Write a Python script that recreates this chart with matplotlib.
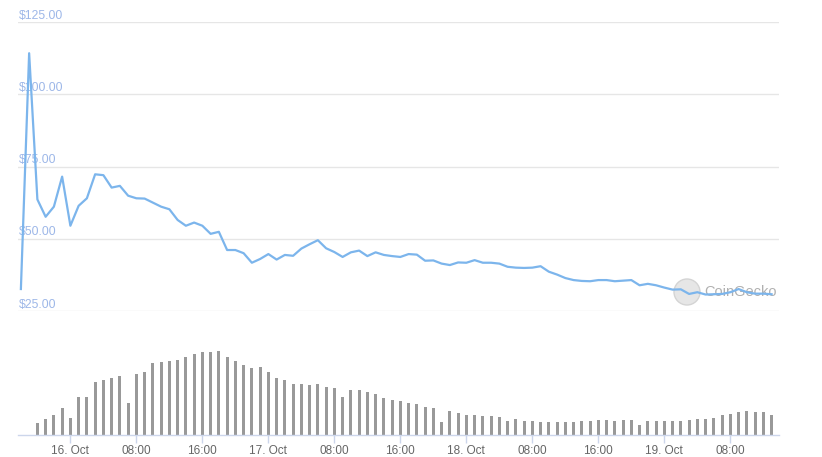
import numpy as np
import matplotlib.pyplot as plt
from matplotlib.patches import Ellipse
from matplotlib.transforms import blended_transform_factory

plt.rcParams['font.family'] = ['Liberation Sans', 'DejaVu Sans']

# hours relative to 16 Oct 00:00
price_start_hour = -6
volume_start_hour = -4

price = [32.6, 114.2, 63.6, 57.6, 61.1, 71.5, 54.5, 61.4, 64.0, 72.3,
         72.0, 67.7, 68.3, 64.9, 64.0, 63.9, 62.5, 61.1, 60.2, 56.5,
         54.5, 55.6, 54.5, 51.7, 52.4, 46.1, 46.1, 45.0, 41.7, 43.0,
         44.7, 42.8, 44.4, 44.1, 46.6, 48.1, 49.5, 46.7, 45.4, 43.7,
         45.3, 45.9, 44.0, 45.3, 44.4, 44.0, 43.7, 44.7, 44.5, 42.4,
         42.5, 41.4, 40.9, 41.8, 41.7, 42.6, 41.7, 41.7, 41.4, 40.3,
         40.0, 39.9, 40.0, 40.5, 38.6, 37.6, 36.4, 35.7, 35.4, 35.3,
         35.7, 35.7, 35.3, 35.5, 35.7, 33.9, 34.4, 33.9, 33.1, 32.4,
         32.5, 30.9, 31.5, 30.7, 30.8, 30.9, 31.5, 32.6, 31.5, 31.0,
         31.0, 30.8]

volume = [11.7, 15.7, 19.7, 26.7, 16.7, 38.3, 37.7, 52.7, 54.7, 56.7,
          58.7, 31.7, 60.7, 62.7, 71.7, 72.7, 73.7, 74.7, 77.7, 81.3,
          82.7, 82.7, 83.7, 77.7, 73.7, 69.7, 66.7, 67.7, 62.7, 56.7,
          54.7, 50.7, 50.7, 49.7, 50.7, 47.7, 46.7, 37.7, 44.7, 44.7,
          42.7, 40.7, 36.7, 34.7, 33.7, 31.7, 30.7, 27.7, 26.7, 12.7,
          23.7, 21.7, 19.7, 19.7, 18.7, 18.7, 17.7, 13.7, 15.7, 14.3,
          14.3, 13.3, 13.3, 13.3, 13.3, 13.3, 14.3, 14.3, 15.3, 15.3,
          14.3, 15.3, 15.3, 10.3, 14.3, 14.3, 14.3, 14.3, 14.3, 15.3,
          16.3, 16.3, 17.3, 20.3, 21.3, 23.3, 24.3, 23.3, 23.3, 20.3]

price_ticks = [25, 50, 75, 100, 125]
price_labels = ['$25.00', '$50.00', '$75.00', '$100.00', '$125.00']
x_ticks = [0, 8, 16, 24, 32, 40, 48, 56, 64, 72, 80]
x_labels = ['16. Oct', '08:00', '16:00', '17. Oct', '08:00', '16:00',
            '18. Oct', '08:00', '16:00', '19. Oct', '08:00']

price_hours = price_start_hour + np.arange(len(price))
volume_hours = volume_start_hour + np.arange(len(volume))

W, H = 822, 457
fig = plt.figure(figsize=(W / 100, H / 100), dpi=100)
xlim = (-6.35, 85.9)
left, right = 18 / W, 779 / W
ax_w, ax_h = 779 - 18, 289

# price pane
ax = fig.add_axes([left, 1 - 311 / H, right - left, ax_h / H])
ax.set_xlim(xlim)
ax.set_ylim(25, 125)
ax.set_yticks(price_ticks)
ax.yaxis.grid(True, color='#e6e6e6', linewidth=1)
ax.set_axisbelow(True)
ax.tick_params(left=False, bottom=False, labelleft=False, labelbottom=False)
for s in ax.spines.values():
    s.set_visible(False)
trans = blended_transform_factory(ax.transAxes, ax.transData)
for v, lab in zip(price_ticks, price_labels):
    ax.text(0.001, v + 0.1, lab, transform=trans, color='#9db7e8',
            fontsize=8.8, ha='left', va='bottom')

# CoinGecko watermark, below the line
cx, cy = (687 - 18) / ax_w, (311 - 292) / ax_h
ax.add_patch(Ellipse((cx, cy), 26 / ax_w, 26 / ax_h, transform=ax.transAxes,
                     facecolor='#e6e6e6', edgecolor='#d4d4d4', linewidth=1,
                     zorder=1))
ax.text((704 - 18) / ax_w, cy, 'CoinGecko', transform=ax.transAxes,
        color='#b0b0b0', fontsize=10.5, ha='left', va='center', zorder=1)

ax.plot(price_hours, price, color='#7cb5ec', linewidth=1.6, zorder=3)

# volume pane
axv = fig.add_axes([left, 1 - 435 / H, right - left, 100 / H])
axv.set_xlim(xlim)
axv.set_ylim(0, 100)
axv.bar(volume_hours, volume, width=0.38, color='#999999')
for s in ['top', 'left', 'right']:
    axv.spines[s].set_visible(False)
axv.spines['bottom'].set_color('#ccd6eb')
axv.spines['bottom'].set_linewidth(1)
axv.set_yticks([])
axv.set_xticks(x_ticks)
axv.set_xticklabels(x_labels)
axv.tick_params(axis='x', colors='#ccd6eb', length=6, width=1,
                labelcolor='#666666', labelsize=8.5, pad=1.5)

fig.savefig('out.png', dpi=100)
